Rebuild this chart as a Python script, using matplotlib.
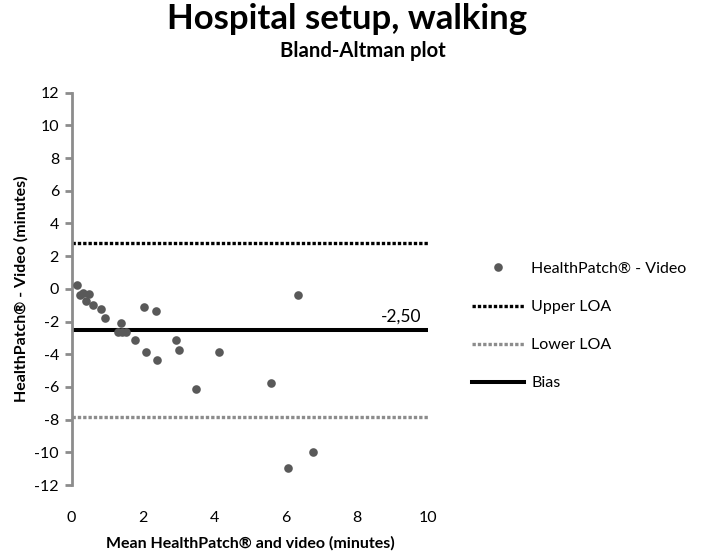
import numpy as np
import matplotlib
matplotlib.use('Agg')
import matplotlib.pyplot as plt

plt.rcParams['font.family'] = ['Lato', 'DejaVu Sans']
plt.rcParams['axes.unicode_minus'] = False

# Mean of HealthPatch and video (minutes)
mean_vals = [0.16, 0.25, 0.33, 0.50, 0.40, 0.59, 0.82, 0.94,
             1.38, 1.31, 1.42, 1.52, 1.78, 2.03, 2.36, 2.09,
             2.39, 2.92, 3.02, 3.49, 4.14, 5.60, 6.06, 6.34, 6.77]
# Difference HealthPatch - Video (minutes)
diff_vals = [0.21, -0.40, -0.26, -0.30, -0.77, -0.97, -1.21, -1.76,
             -2.08, -2.64, -2.64, -2.64, -3.10, -1.11, -1.38, -3.86,
             -4.37, -3.10, -3.76, -6.10, -3.86, -5.76, -10.96, -0.40, -9.98]

bias = -2.50
upper_loa = 2.83
lower_loa = -7.83

fig = plt.figure(figsize=(7.08, 5.55), dpi=100)
ax = fig.add_axes([0.101, 0.126, 0.504, 0.707])

ax.plot(mean_vals, diff_vals, 'o', color='#595959', markersize=6.2,
        markeredgewidth=0, label='HealthPatch® - Video', zorder=3)
ax.axhline(upper_loa, color='black', linewidth=2.4, linestyle=(0, (1, 0.6)),
           label='Upper LOA', zorder=2)
ax.axhline(lower_loa, color='#8c8c8c', linewidth=2.4, linestyle=(0, (1, 0.6)),
           label='Lower LOA', zorder=2)
ax.axhline(bias, color='black', linewidth=2.9, label='Bias', zorder=2)

ax.annotate('-2,50', (9.8, bias), xytext=(0, 4), textcoords='offset points',
            ha='right', va='bottom', fontsize=12.5)

ax.set_xlim(0, 10)
ax.set_ylim(-12, 12)
ax.set_xticks(np.arange(0, 11, 2))
ax.set_yticks(np.arange(-12, 13, 2))

for s in ['top', 'right', 'bottom']:
    ax.spines[s].set_visible(False)
ax.spines['left'].set_color('#8c8c8c')
ax.spines['left'].set_linewidth(2)
ax.tick_params(axis='y', colors='#8c8c8c', width=2, length=5, labelsize=11.5,
               labelcolor='black', pad=4)
ax.tick_params(axis='x', length=0, labelsize=11.5, pad=19)

ax.set_xlabel('Mean HealthPatch® and video (minutes)', fontsize=11.5,
              fontweight='bold', labelpad=8)
ax.set_ylabel('HealthPatch® - Video (minutes)', fontsize=11.5,
              fontweight='bold', labelpad=4)

fig.text(0.49, 0.948, 'Hospital setup, walking', ha='center', va='baseline',
         fontsize=25, fontweight='bold')
fig.text(0.512, 0.897, 'Bland-Altman plot', ha='center', va='baseline',
         fontsize=14.6, fontweight='bold')

leg = ax.legend(loc='center left', bbox_to_anchor=(1.082, 0.405), frameon=False,
                fontsize=11.5, labelspacing=1.5, handlelength=3.25,
                handletextpad=0.45)

fig.savefig('out.png', dpi=100)
